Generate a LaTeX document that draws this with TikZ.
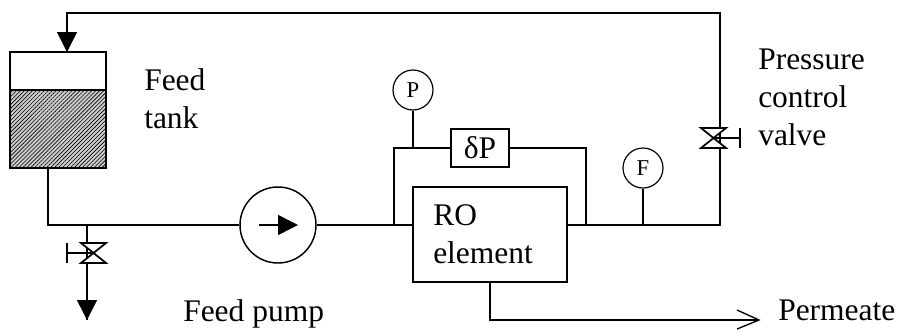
\documentclass[tikz,border=0pt]{standalone}
\usepackage{fontspec}
\setmainfont{Liberation Serif}
\usetikzlibrary{arrows.meta,patterns.meta}

\tikzset{
  pipe/.style={line width=1.1pt},
  flowtip/.style={-{Triangle[length=15pt,width=15pt]}},
  label/.style={inner sep=0pt,anchor=north west,align=left,font=\fontsize{23.6}{28.5}\selectfont},
  gauge/.style={draw,circle,fill=white,line width=0.9pt,inner sep=0pt,minimum size=30pt,font=\fontsize{17}{18}\selectfont},
}

\begin{document}
\begin{tikzpicture}[x=0.75pt,y=-0.75pt]
\useasboundingbox (0,0) rectangle (899,329);

%Feed tank
\fill[gray!40] (10,90) rectangle (106,168);
\fill[pattern={Lines[angle=45,distance=2.1pt,line width=0.45pt]},pattern color=black] (10,90) rectangle (106,168);
\node[draw,line width=1.3pt,minimum width=72pt,minimum height=87pt,inner sep=0pt] (tank) at (58,110) {};
\draw[line width=1.1pt] (tank.west |- 0,90) -- (tank.east |- 0,90);
\coordinate (tankin) at (67,52);
\coordinate (tankout) at (48,168);
\coordinate (drain) at (87,225);
\coordinate (drainend) at (87,320);
\coordinate (corner1) at (48,225);
\coordinate (corner2) at (67,13);
\coordinate (corner3) at (720,13);
\coordinate (corner4) at (720,225);

%Pump, RO element and instruments
\node[draw,circle,line width=1.1pt,inner sep=0pt,minimum size=57pt] (pump) at (278,225) {};
\node[draw,line width=1.3pt,minimum width=115.5pt,minimum height=71.25pt,inner sep=0pt] (ro) at (490,234.5) {};
\node[draw,line width=1.1pt,minimum width=43.5pt,minimum height=28.5pt,inner sep=0pt,font=\fontsize{23.6}{28.5}\selectfont] (dp) at (480,148) {δP};
\node[gauge] (p) at (413,90) {P};
\node[gauge] (f) at (643,168) {F};

\coordinate (roin) at (413,225);
\coordinate (roout) at (567,225);
\coordinate (bypassl) at (394,225);
\coordinate (bypassr) at (586,225);
\coordinate (bypasslt) at (394,148);
\coordinate (bypassrt) at (586,148);
\coordinate (ptap) at (413,148);
\coordinate (ftap) at (643,225);
\coordinate (pumpa) at (259,225);
\coordinate (pumpb) at (298,225);
\coordinate (permout) at (490,320);
\coordinate (permend) at (759,320);

%Pipes
\draw[pipe] (tankout) -- (corner1) -- (pump.west);
\draw[pipe] (pump.east) -- (roin);
\draw[pipe] (roout) -- (corner4) -- (corner3) -- (corner2) -- (tankin);
\draw[pipe] (bypassl) -- (bypasslt) -- (dp.west);
\draw[pipe] (dp.east) -- (bypassrt) -- (bypassr);
\draw[pipe] (ptap) -- (p.south);
\draw[pipe] (ftap) -- (f.south);
\draw[pipe] (ro.south) -- (permout) -- (permend);
\draw[pipe] (drain) -- (drainend);

%Arrow heads
\draw[pipe,flowtip] (corner2) -- (tankin);
\draw[pipe,flowtip] (drain) -- (drainend);
\draw[pipe,flowtip] (pumpa) -- (pumpb);
\draw[line width=1pt] (737,310) -- (permend) -- (737,329);

%Valves
\draw[line width=1.3pt,fill=white] (81,243) -- (106,243) -- (81,263) -- (106,263) -- cycle;
\draw[pipe] (67,243) -- (67,263);
\draw[pipe] (67,253) -- (93,253);
\draw[line width=1.3pt,fill=white] (701,128) -- (726,128) -- (701,148) -- (726,148) -- cycle;
\draw[pipe] (740,128) -- (740,148);
\draw[pipe] (714,138) -- (740,138);

%Labels
\node[label] (tanklabel) at (144,68) {Feed\\tank};
\node[label] (ctrllabel) at (758,49) {Pressure\\control\\valve};
\node[label] (pumplabel) at (183,299) {Feed pump};
\node[label] (rolabel) at (433,204) {RO\\element};
\node[label] (permlabel) at (778,300) {Permeate};
\end{tikzpicture}
\end{document}
